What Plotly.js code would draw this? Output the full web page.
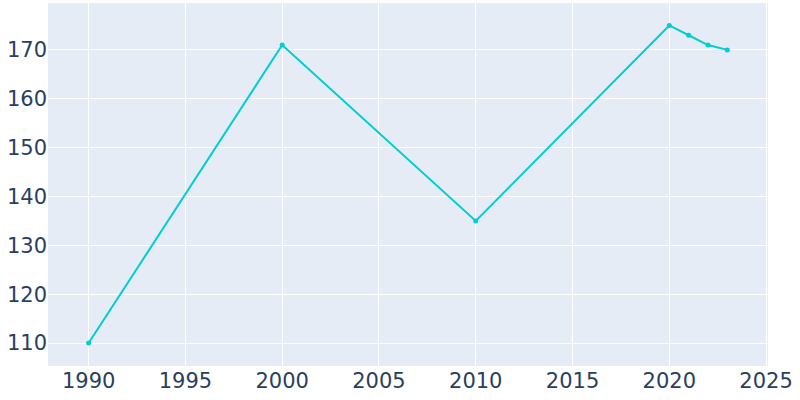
<!DOCTYPE html>
<html>
<head>
<meta charset="utf-8">
<script src="https://cdn.plot.ly/plotly-3.0.1.min.js"></script>
<style>html,body{margin:0;padding:0;background:#fff;}#chart{width:800px;height:400px;}</style>
</head>
<body>
<div id="chart"></div>
<script>
const years = [1990, 2000, 2010, 2020, 2021, 2022, 2023];
const population = [110, 171, 135, 175, 173, 171, 170];
const xTicks = [1990, 1995, 2000, 2005, 2010, 2015, 2020, 2025];
const yTicks = [110, 120, 130, 140, 150, 160, 170];

Plotly.newPlot('chart', [{
  x: years,
  y: population,
  type: 'scatter',
  mode: 'lines+markers',
  line: {color: '#00ced1', width: 2},
  marker: {color: '#00ced1', size: 5},
  hoverinfo: 'x+y'
}], {
  width: 800,
  height: 400,
  margin: {l: 48, r: 31.5, t: 3, b: 33.5, pad: 0},
  paper_bgcolor: '#ffffff',
  plot_bgcolor: '#e5ecf6',
  font: {family: 'DejaVu Sans, sans-serif', size: 21, color: '#2a3f5f'},
  showlegend: false,
  xaxis: {
    range: [1987.9, 2025.1],
    tickvals: xTicks,
    ticktext: xTicks.map(String),
    gridcolor: '#ffffff',
    gridwidth: 1,
    zeroline: false,
    showline: false,
    ticks: '',
    automargin: false
  },
  yaxis: {
    range: [105.3, 179.6],
    tickvals: yTicks,
    ticktext: yTicks.map(String),
    gridcolor: '#ffffff',
    gridwidth: 1,
    zeroline: false,
    showline: false,
    ticks: '',
    automargin: false
  }
}, {displayModeBar: false, staticPlot: true});
</script>
</body>
</html>
